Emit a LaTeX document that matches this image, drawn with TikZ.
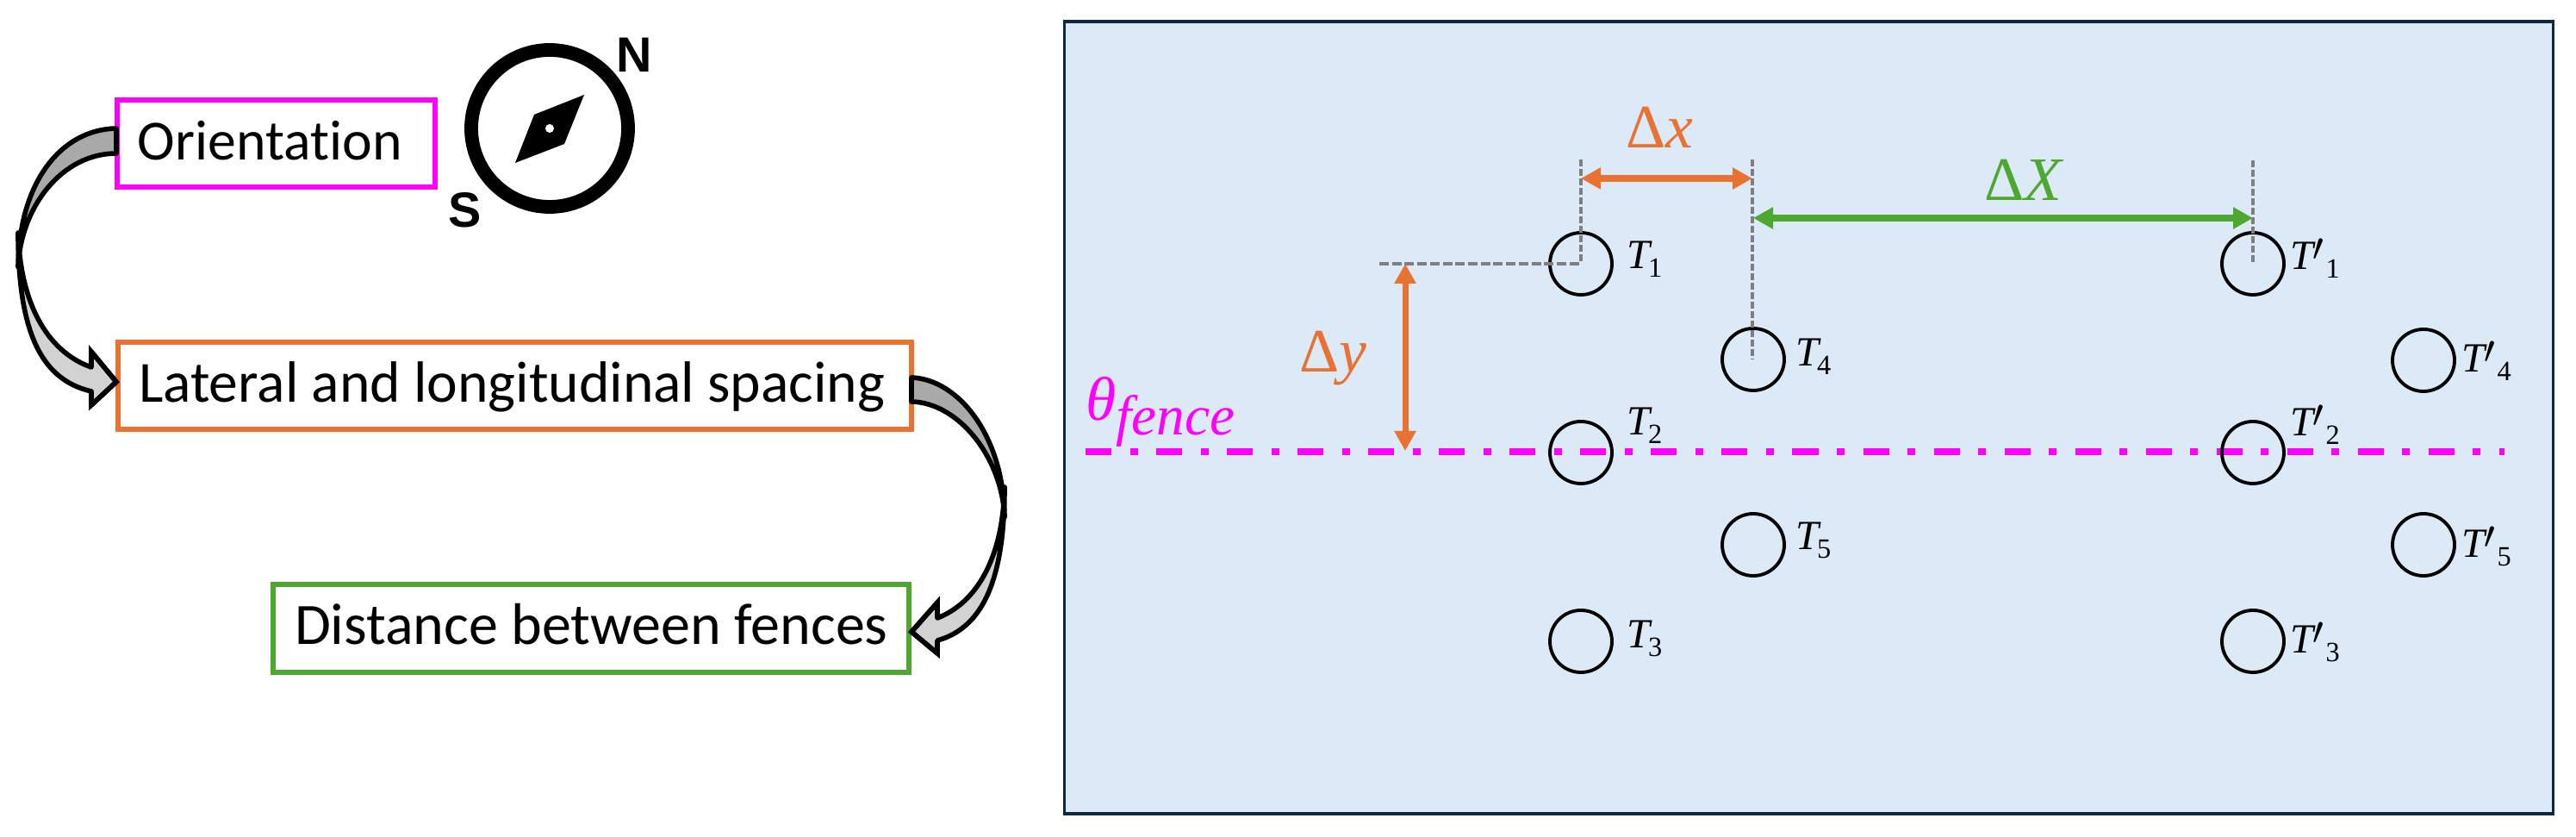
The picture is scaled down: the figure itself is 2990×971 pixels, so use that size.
\documentclass[tikz,border=0pt]{standalone}
\usepackage{fontspec}
\setmainfont{Carlito}[Ligatures=NoCommon]
\newfontfamily\mfont{Liberation Serif}
\newfontfamily\polefont{Liberation Sans}
\usetikzlibrary{arrows.meta}
\newlength\pxu
\setlength\pxu{0.01cm}
\definecolor{cmag}{HTML}{FF00FF}
\definecolor{corg}{HTML}{E97132}
\definecolor{cgrn}{HTML}{4EA72E}
\definecolor{cpan}{HTML}{DCE9F7}
\definecolor{cnav}{HTML}{0E2841}
\definecolor{cdsh}{HTML}{7F7F7F}
\definecolor{cdark}{HTML}{A9A9A9}
\definecolor{clite}{HTML}{D2D2D2}
\newcommand\mlab{\mfont\fontsize{20.4pt}{22pt}\selectfont}
\newcommand\tbase{\mfont\fontsize{13.7pt}{15pt}\selectfont}
\newcommand\tsub{\mfont\fontsize{9.2pt}{10pt}\selectfont}
\newcommand\tlab[1]{{\tbase\itshape T}\kern-0.5pt\raisebox{-2.8pt}{\tsub #1}}
\newcommand\tplab[1]{{\tbase\itshape T}\raisebox{3.1pt}{\scalebox{1.3}{$\prime$}}\kern0.6pt\raisebox{-2.6pt}{\tsub #1}}
\tikzset{
  x=0.01cm,y=-0.01cm,
  flowbox/.style={draw,line width=1.55pt,inner sep=0pt,outer sep=0pt,anchor=north west,
    text height=70\pxu,text depth=31\pxu},
  turbine/.style={circle,draw=black,line width=1.1pt,minimum size=72\pxu,inner sep=0pt,outer sep=0pt},
  tname/.style={anchor=base west,inner sep=0pt,outer sep=0pt},
  guideh/.style={draw=cdsh,line width=1.15pt,dash pattern=on 0.11cm off 0.037cm},
  guidev/.style={draw=cdsh,line width=1.15pt,dash pattern=on 0.08cm off 0.03cm},
  dimorg/.style={draw=corg,line width=2pt,{Triangle[length=0.23cm,width=0.24cm]}-{Triangle[length=0.23cm,width=0.24cm]}},
  dimgrn/.style={draw=cgrn,line width=2pt,{Triangle[length=0.23cm,width=0.24cm]}-{Triangle[length=0.23cm,width=0.24cm]}},
  curvedshape/.style={draw=black,line width=1.6pt,line join=round},
  headedge/.style={draw=black,line width=1.6pt,line join=miter,miter limit=3.2},
  poleletter/.style={anchor=base west,inner sep=0pt,outer sep=0pt,font=\polefont\bfseries\fontsize{16.3pt}{18pt}\selectfont},
}
\begin{document}
\begin{tikzpicture}
\useasboundingbox (0,0) rectangle (2990,971);
\fill[white] (0,0) rectangle (2990,971);

% panel
\node[draw=cnav,fill=cpan,line width=1pt,inner sep=0pt,outer sep=0pt,anchor=north west,
  minimum width=1728\pxu,minimum height=919\pxu] (panel) at (1235.5,25) {};

% left boxes
\node[flowbox,draw=cmag,font=\fontsize{18.7pt}{20pt}\selectfont] (ori) at (136,116) {\makebox[369\pxu][l]{\hspace*{24\pxu}Orientation}};
\node[flowbox,draw=corg,font=\fontsize{19.2pt}{20pt}\selectfont] (lat) at (137,397) {\makebox[921\pxu][l]{\hspace*{24\pxu}Lateral and longitudinal spacing}};
\node[flowbox,draw=cgrn,text depth=32\pxu,font=\fontsize{19.35pt}{20pt}\selectfont] (dst) at (317,678) {\makebox[738\pxu][l]{\hspace*{25\pxu}Distance between fences}};

% compass
\node[circle,draw=black,line width=4.5pt,minimum size=182\pxu,inner sep=0pt,outer sep=0pt] (cmp) at (638,149) {};
\fill[black] (678,110) -- (620,133) -- (598,189) -- (655,167) -- cycle;
\fill[white] (638,149) circle (5);
\node[poleletter] (nn) at (715,84) {N};
\node[poleletter] (ss) at (520,264) {S};

% curved arrow 1
\fill[cdark,curvedshape] (135,149) .. controls (72,150) and (22,210) .. (21,310)
  .. controls (24,240) and (72,178) .. (135,178) -- cycle;
\fill[clite,curvedshape] (21,270) .. controls (21,380) and (45,440) .. (106,454)
  -- (106,470) -- (135,443) -- (106,408) -- (106,426)
  .. controls (60,410) and (24,360) .. cycle;
\draw[headedge] (106,454) -- (106,470) -- (135,443) -- (106,408) -- (106,426);

% curved arrow 2
\fill[cdark,curvedshape] (1058,438) .. controls (1112,440) and (1165,505) .. (1166,600)
  .. controls (1163,530) and (1112,467) .. (1058,466) -- cycle;
\fill[clite,curvedshape] (1166,565) .. controls (1166,670) and (1142,728) .. (1088,743)
  -- (1088,758) -- (1058,733) -- (1088,699) -- (1088,717)
  .. controls (1132,700) and (1164,650) .. cycle;
\draw[headedge] (1088,743) -- (1088,758) -- (1058,733) -- (1088,699) -- (1088,717);

% fence line
\coordinate (fl) at (1260,524);
\coordinate (fr) at (2907,524);
\draw[cmag,line width=2.1pt,dash pattern=on 0.30cm off 0.215cm on 0.09cm off 0.215cm] (fl) -- (fr);
\node[tname,text=cmag] (fen) at (1260,488) {\mlab\itshape θ\raisebox{-4.8pt}{\fontsize{18.6pt}{20pt}\selectfont fence}};

% turbines
\node[turbine] (T1) at (1835,306) {};
\node[turbine] (T2) at (1835,525) {};
\node[turbine] (T3) at (1835,744) {};
\node[turbine] (T4) at (2035,417) {};
\node[turbine] (T5) at (2035,632) {};
\node[turbine] (P1) at (2615,306) {};
\node[turbine] (P2) at (2615,525) {};
\node[turbine] (P3) at (2615,744) {};
\node[turbine] (P4) at (2813,418) {};
\node[turbine] (P5) at (2813,632) {};

\node[tname] (t1) at (1888,312) {\tlab{1}};
\node[tname] (t2) at (1888,505) {\tlab{2}};
\node[tname] (t3) at (1888,752) {\tlab{3}};
\node[tname] (t4) at (2084,425) {\tlab{4}};
\node[tname] (t5) at (2084,638) {\tlab{5}};
\node[tname] (p1) at (2658,313) {\tplab{1}};
\node[tname] (p2) at (2658,506) {\tplab{2}};
\node[tname] (p3) at (2658,758) {\tplab{3}};
\node[tname] (p4) at (2857,432) {\tplab{4}};
\node[tname] (p5) at (2857,647) {\tplab{5}};

% dimensions
\coordinate (xa) at (1835,207);
\coordinate (xb) at (2034,207);
\coordinate (ya) at (1631,306);
\coordinate (yb) at (1631,523);
\coordinate (Xa) at (2035,253);
\coordinate (Xb) at (2615,253);
\draw[dimorg] (xa) -- (xb);
\draw[dimorg] (ya) -- (yb);
\draw[dimgrn] (Xa) -- (Xb);

% guides
\coordinate (g1) at (1835,185);
\coordinate (g2) at (2034,185);
\coordinate (g2e) at (2034,417);
\coordinate (g3) at (2615,186);
\coordinate (g4) at (1601,306);
\draw[guideh] (g4) -- (T1.center);
\draw[guidev] (g1) -- (T1.center);
\draw[guidev] (g2) -- (g2e);
\draw[guidev] (g3) -- (P1.center);

\node[tname,text=corg] (ldx) at (1887,172) {\mlab Δ\textit{x}};
\node[tname,text=corg] (ldy) at (1508,432) {\mlab Δ\textit{y}};
\node[tname,text=cgrn] (ldX) at (2303,233) {\mlab Δ\textit{X}};
\end{tikzpicture}
\end{document}
